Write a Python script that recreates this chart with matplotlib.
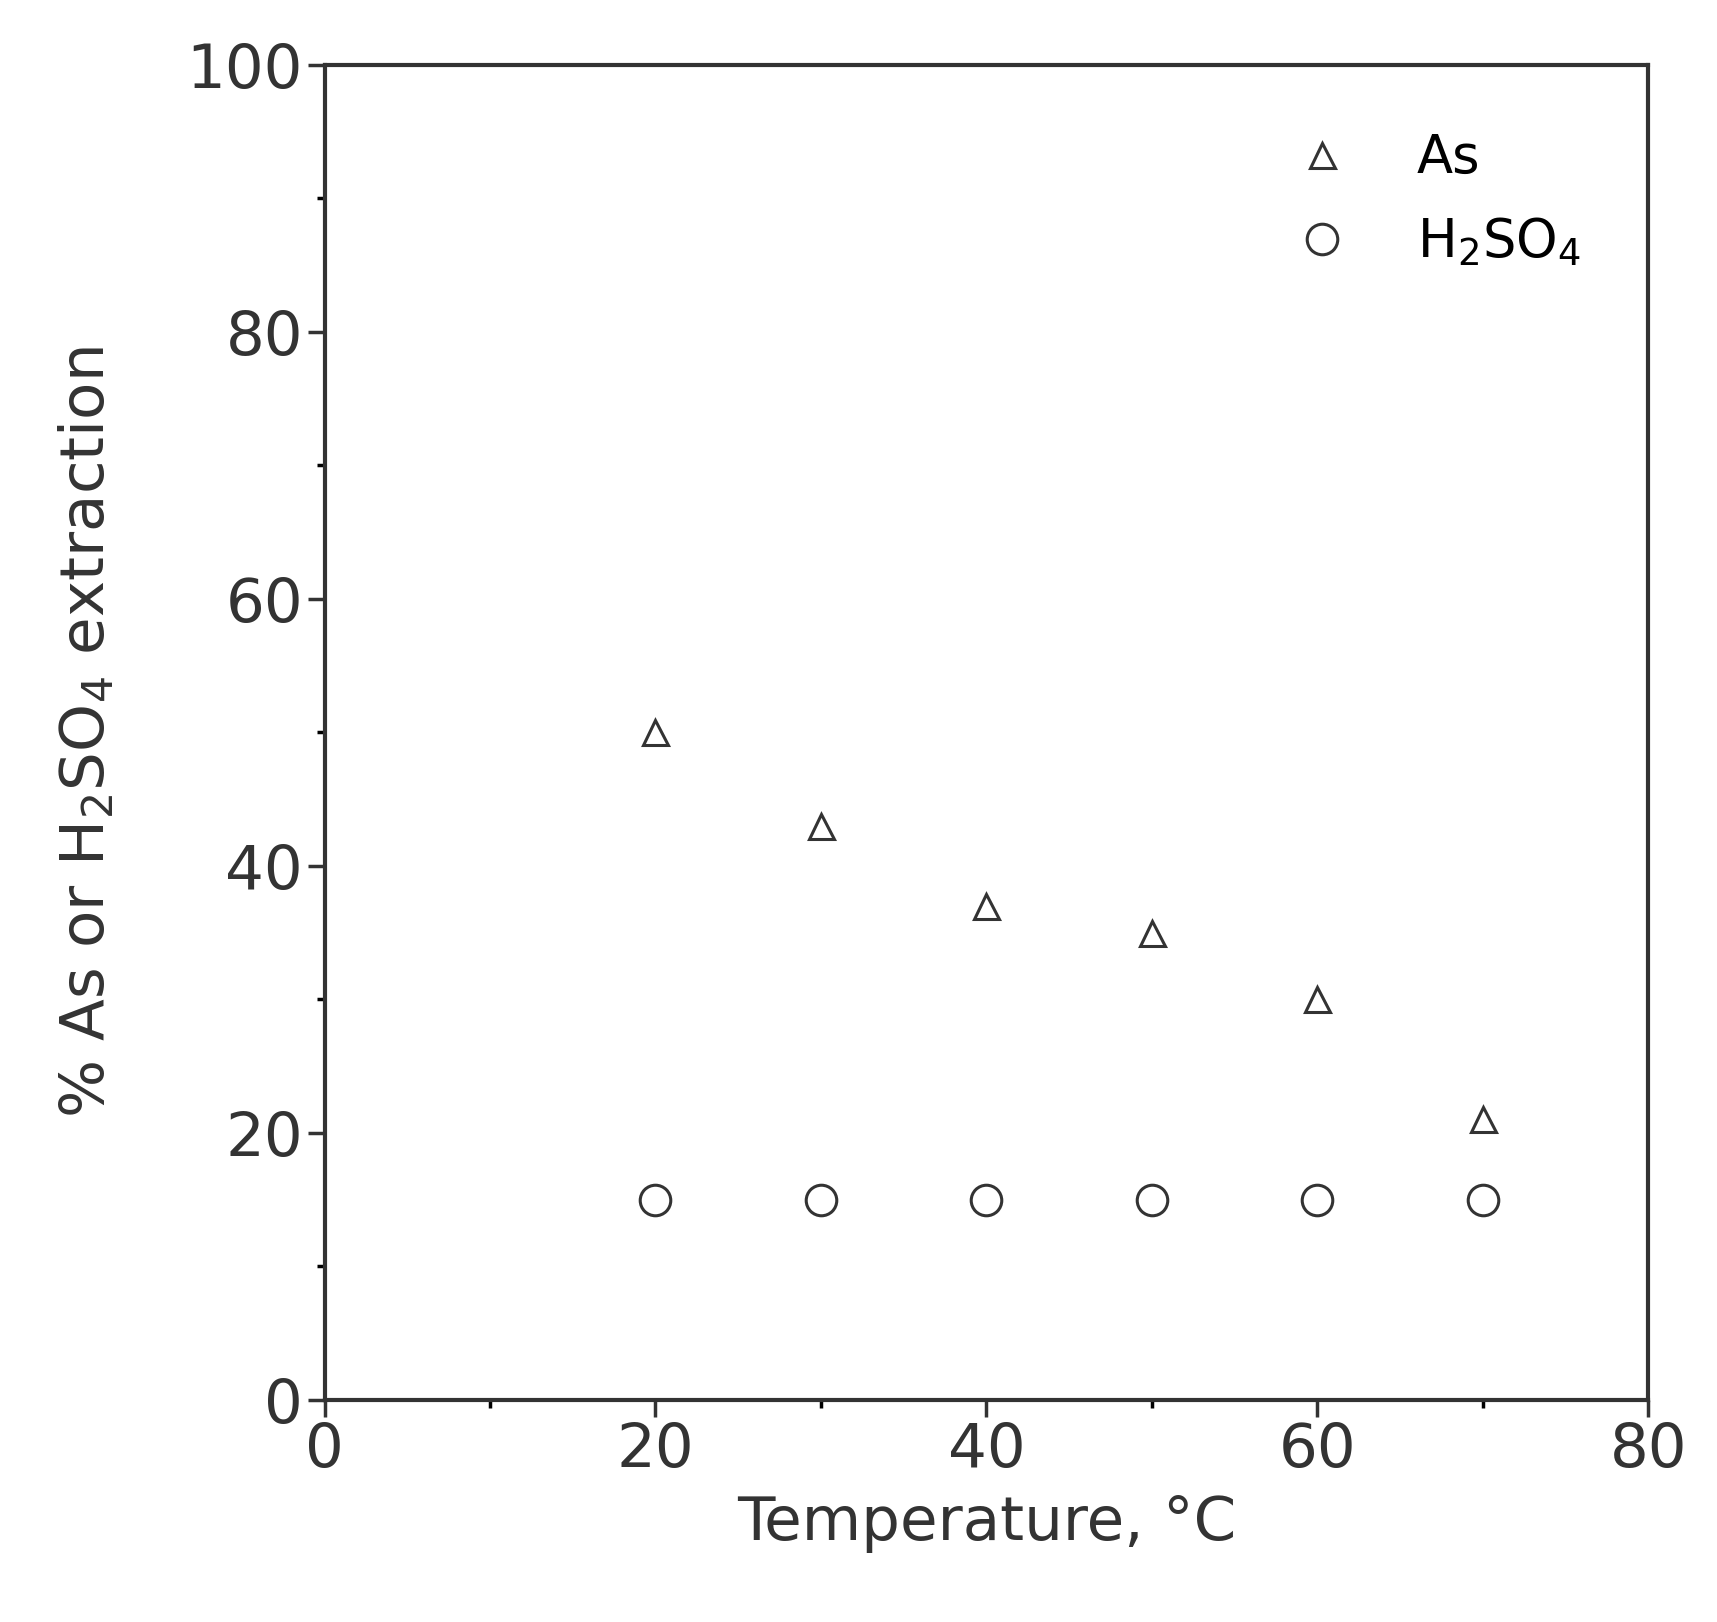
import matplotlib
matplotlib.use("Agg")
import matplotlib.pyplot as plt
from matplotlib.ticker import MultipleLocator

temps = [20, 30, 40, 50, 60, 70]
as_ext = [50, 43, 37, 35, 30, 21]
h2so4_ext = [15, 15, 15, 15, 15, 15]

fig = plt.figure(figsize=(17.17, 16.22), dpi=100)
ax = fig.add_axes([0.189, 0.137, 0.771, 0.823])
ax.plot(temps, as_ext, linestyle='none', marker='^', markersize=18, markerfacecolor='white',
        markeredgecolor='#333333', markeredgewidth=2.2, label='As')
ax.plot(temps, h2so4_ext, linestyle='none', marker='o', markersize=22, markerfacecolor='white',
        markeredgecolor='#333333', markeredgewidth=2.2, label=r'H$_2$SO$_4$')
ax.set_xlim(0, 80)
ax.set_ylim(0, 100)
ax.xaxis.set_major_locator(MultipleLocator(20))
ax.xaxis.set_minor_locator(MultipleLocator(10))
ax.yaxis.set_major_locator(MultipleLocator(20))
ax.yaxis.set_minor_locator(MultipleLocator(10))
ax.tick_params(which='major', direction='out', length=12, width=2.5, labelsize=44, colors='#333333')
ax.tick_params(which='minor', direction='out', length=6, width=2.5)
for s in ax.spines.values():
    s.set_linewidth(3)
    s.set_color('#333333')
ax.set_xlabel('Temperature, °C', fontsize=44, color='#333333', labelpad=10)
ax.set_ylabel(r'% As or H$_2$SO$_4$ extraction', fontsize=44, color='#333333', labelpad=50)
ax.legend(loc='upper right', bbox_to_anchor=(0.985, 0.985), frameon=False, fontsize=38,
          handletextpad=0.8, labelspacing=0.6)
fig.savefig('out.png')
